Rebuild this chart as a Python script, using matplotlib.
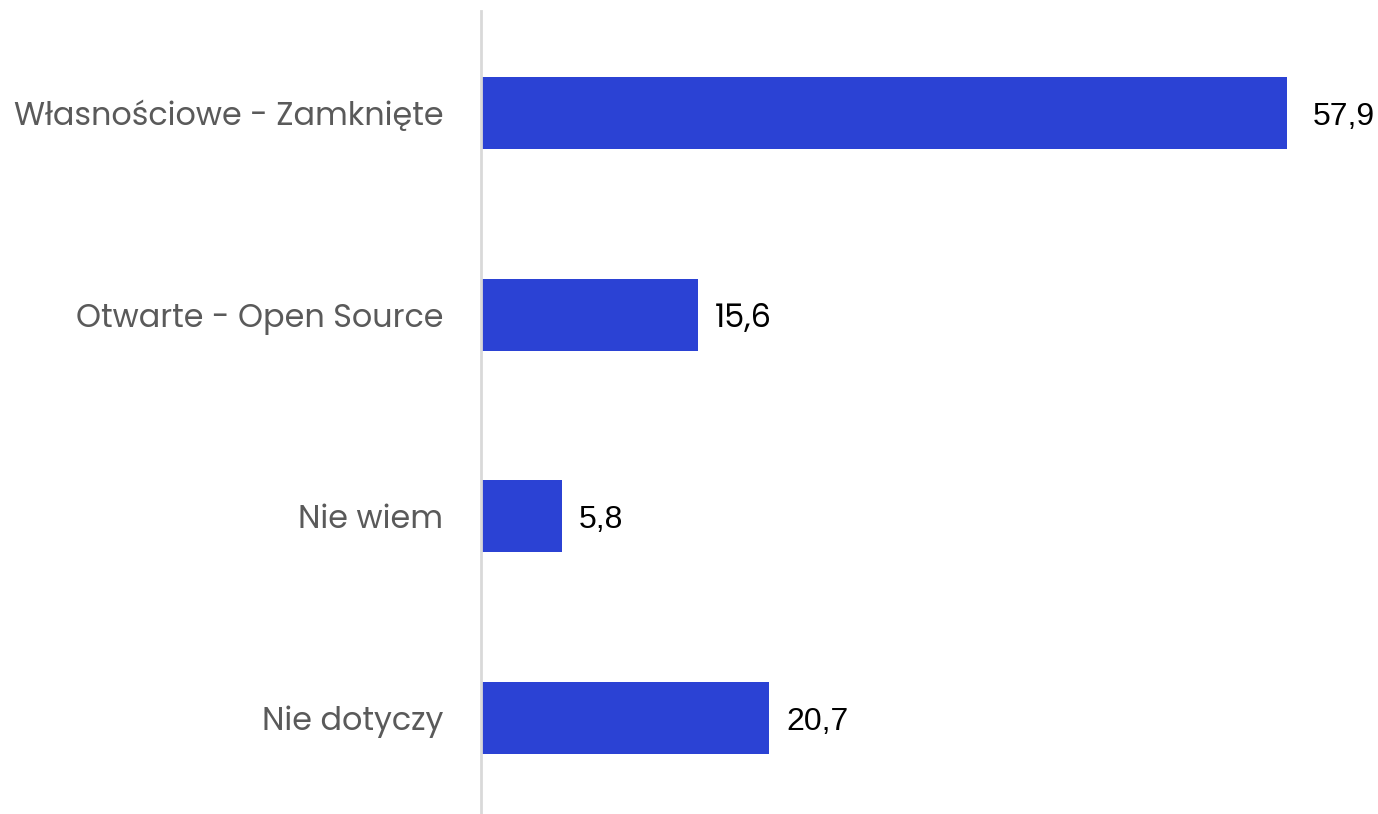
import matplotlib.pyplot as plt

# Data
categories = ['Własnościowe - Zamknięte', 'Otwarte - Open Source', 'Nie wiem', 'Nie dotyczy']
values = [57.9, 15.6, 5.8, 20.7]
value_labels = ['57,9', '15,6', '5,8', '20,7']

bar_color = '#2B42D4'
plt.rcParams['font.family'] = ['Poppins', 'Open Sans', 'DejaVu Sans']

# the reference mixes fonts in the value labels
label_fonts = ['Liberation Sans', 'Poppins', 'Liberation Sans', 'Liberation Sans']
label_gaps = [26, 17, 17, 17]  # px between bar end and label

fig = plt.figure(figsize=(13.78, 8.14), dpi=100)
ax = fig.add_axes([481 / 1378, 0, (1378 - 481) / 1378, 1 - 11 / 814])

y = range(len(categories))
ax.barh(y, values, height=0.356, color=bar_color)

for yi, v, lab, fnt, gap in zip(y, values, value_labels, label_fonts, label_gaps):
    ax.annotate(lab, (v, yi), xytext=(gap, -4), textcoords='offset pixels',
                va='center', ha='left', fontsize=23, color='#000000',
                family=[fnt, 'DejaVu Sans'])

ax.set_xlim(0, (1378 - 482) / 13.9)
ax.set_ylim(3.475, -0.505)
ax.set_yticks(list(y))
ax.set_yticklabels(categories, fontsize=22.9, color='#5A5A5A')
ax.tick_params(axis='y', length=0, pad=27)
ax.set_xticks([])

for side in ['top', 'right', 'bottom']:
    ax.spines[side].set_visible(False)
ax.spines['left'].set_color('#D9D9D9')
ax.spines['left'].set_linewidth(2)

fig.savefig('out.png', dpi=100)
